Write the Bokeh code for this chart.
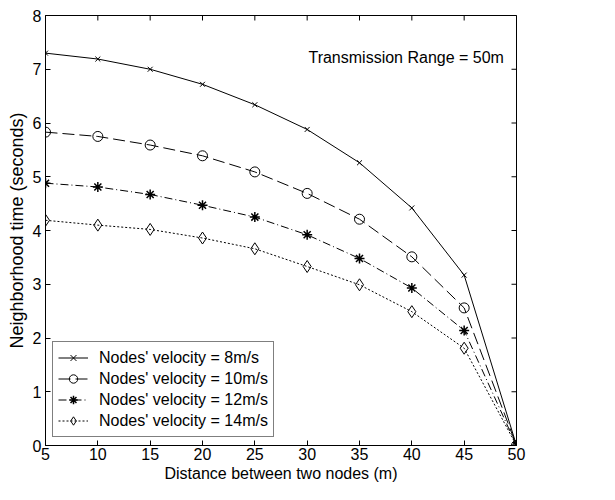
import math
from bokeh.plotting import figure
from bokeh.models import Range1d, FixedTicker, Label, Legend, LegendItem
from bokeh.embed import file_html
from bokeh.resources import INLINE

# ---- data ----
distance = [5, 10, 15, 20, 25, 30, 35, 40, 45, 50]
v8 = [7.30, 7.19, 7.00, 6.72, 6.34, 5.88, 5.26, 4.42, 3.17, 0.0]
v10 = [5.83, 5.75, 5.59, 5.39, 5.09, 4.69, 4.21, 3.51, 2.56, 0.0]
v12 = [4.88, 4.81, 4.67, 4.47, 4.25, 3.92, 3.48, 2.93, 2.14, 0.0]
v14 = [4.19, 4.10, 4.02, 3.86, 3.66, 3.33, 2.99, 2.49, 1.81, 0.0]
series_labels = ["Nodes' velocity = 8m/s", "Nodes' velocity = 10m/s",
                 "Nodes' velocity = 12m/s", "Nodes' velocity = 14m/s"]
x_ticks = [5, 10, 15, 20, 25, 30, 35, 40, 45, 50]
y_ticks = [0, 1, 2, 3, 4, 5, 6, 7, 8]
note_text = "Transmission Range = 50m"

FONT = "Liberation Sans"
FS = "16px"
X_MIN, X_MAX, Y_MIN, Y_MAX = 5, 50, 0, 8

p = figure(width=599, height=484, output_backend="svg", toolbar_location=None,
           x_range=Range1d(X_MIN, X_MAX), y_range=Range1d(Y_MIN, Y_MAX),
           min_border_left=45, min_border_right=83, min_border_top=15,
           min_border_bottom=39, background_fill_color="white",
           border_fill_color="white", outline_line_color="black",
           outline_line_width=1)
p.grid.visible = False

for ax in (p.xaxis[0], p.yaxis[0]):
    ax.major_tick_in = 5
    ax.major_tick_out = 0
    ax.minor_tick_line_color = None
    ax.axis_line_color = "black"
    ax.major_tick_line_color = "black"
    ax.major_label_text_font = FONT
    ax.major_label_text_color = "black"
    ax.major_label_text_font_size = FS
    ax.axis_label_text_font = FONT
    ax.axis_label_text_font_style = "normal"
    ax.axis_label_text_color = "black"
    ax.axis_label_text_font_size = FS

p.xaxis.ticker = FixedTicker(ticks=x_ticks)
p.yaxis.ticker = FixedTicker(ticks=y_ticks)
p.xaxis.axis_label = "Distance between two nodes (m)"
p.yaxis.axis_label = "Neighborhood time (seconds)"
p.yaxis.axis_label_text_font_size = "18px"
p.xaxis.major_label_standoff = 2
p.xaxis.axis_label_standoff = 2
p.yaxis.major_label_standoff = 4
p.yaxis.axis_label_standoff = 3

# inward ticks on the top and right edges of the box (outer halves are clipped by the frame)
p.scatter(x_ticks, [Y_MAX] * len(x_ticks), marker="dash", size=10, angle=math.pi / 2,
          line_color="black", line_width=1)
p.scatter([X_MAX] * len(y_ticks), y_ticks, marker="dash", size=10, angle=0,
          line_color="black", line_width=1)

r1 = p.line(distance, v8, line_color="black", line_width=1)
m1 = p.scatter(distance, v8, marker="x", size=7, line_color="black")
r2 = p.line(distance, v10, line_color="black", line_width=1, line_dash="12 5")
m2 = p.scatter(distance, v10, marker="circle", size=10, line_color="black", fill_color=None)
r3 = p.line(distance, v12, line_color="black", line_width=1, line_dash="8 3 1 3")
m3 = p.scatter(distance, v12, marker="asterisk", size=10, line_color="black", line_width=1.5)
r4 = p.line(distance, v14, line_color="black", line_width=1, line_dash="2 2")
m4 = p.scatter(distance, v14, marker="diamond", size=12, line_color="black", fill_color=None)

legend = Legend(items=[LegendItem(label=series_labels[0], renderers=[r1, m1]),
                       LegendItem(label=series_labels[1], renderers=[r2, m2]),
                       LegendItem(label=series_labels[2], renderers=[r3, m3]),
                       LegendItem(label=series_labels[3], renderers=[r4, m4])],
                location=(7, 8), border_line_color="black", border_line_width=1,
                background_fill_color="white", background_fill_alpha=1,
                label_text_font=FONT, label_text_font_size=FS,
                label_text_color="black", glyph_width=30, glyph_height=21,
                label_height=21, label_standoff=11, padding=5, spacing=0,
                margin=0)
p.add_layout(legend)

note = Label(x=48.8, y=7.22, text=note_text, text_align="right",
             text_baseline="middle", text_font=FONT, text_font_size=FS,
             text_color="black")
p.add_layout(note)

open("out.html", "w").write(file_html(p, INLINE))
